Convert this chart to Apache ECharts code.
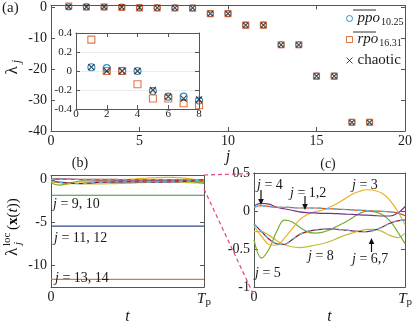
<!DOCTYPE html>
<html>
<head>
<meta charset="utf-8">
<script src="https://cdn.jsdelivr.net/npm/echarts@6/dist/echarts.min.js"></script>
<style>
  html, body { margin: 0; padding: 0; background: #fff; }
  #chart { width: 415px; height: 326px; }
</style>
</head>
<body>
<div id="chart"></div>
<script>
// Lyapunov exponents, panel (a)
const jIndex = [1, 2, 3, 4, 5, 6, 7, 8, 9, 10, 11, 12, 13, 14, 15, 16, 17, 18];
const ppoExp = [0.04, 0.03, 0.0, 0.0, -0.21, -0.27, -0.27, -0.31, -2.14, -2.14, -5.86, -5.86, -12.2, -12.2, -22.3, -22.3, -37.2, -37.2];
const rpoExp = [0.33, 0.0, 0.0, -0.14, -0.29, -0.29, -0.34, -0.36, -2.14, -2.14, -5.86, -5.86, -12.2, -12.2, -22.3, -22.3, -37.2, -37.2];
const chaoticExp = [0.04, 0.0, 0.0, 0.0, -0.2, -0.27, -0.29, -0.3, -2.14, -2.14, -5.86, -5.86, -12.2, -12.2, -22.3, -22.3, -37.2, -37.2];

// local exponents along the orbit, panels (b) and (c)
const tGrid = [0, 0.05, 0.1, 0.15, 0.2, 0.25, 0.3, 0.35, 0.4, 0.45, 0.5, 0.55, 0.6, 0.65, 0.7, 0.75, 0.8, 0.85, 0.9, 0.95, 1];
const loc12 = [0.05, 0.07, 0.06, 0.05, 0.05, 0.045, 0.04, 0.04, 0.04, 0.035, 0.03, 0.025, 0.02, 0.015, 0.01, 0.005, 0.0, -0.005, -0.01, -0.025, -0.06];
const loc3 = [-0.2, -0.33, -0.44, -0.45, -0.36, -0.24, -0.12, -0.05, -0.01, 0.01, 0.05, 0.1, 0.16, 0.22, 0.26, 0.28, 0.27, 0.23, 0.14, 0.0, -0.18];
const loc4 = [0.07, 0.1, 0.09, 0.05, 0.03, 0.01, -0.01, -0.02, -0.025, -0.03, -0.03, -0.035, -0.04, -0.045, -0.05, -0.055, -0.06, -0.065, -0.065, -0.03, 0.06];
const loc5 = [-0.38, -0.62, -0.5, -0.27, -0.12, -0.14, -0.21, -0.27, -0.29, -0.28, -0.25, -0.2, -0.15, -0.09, -0.03, 0.0, -0.01, -0.05, -0.13, -0.27, -0.43];
const loc67 = [-0.17, -0.27, -0.37, -0.43, -0.44, -0.38, -0.31, -0.27, -0.25, -0.24, -0.235, -0.24, -0.25, -0.26, -0.27, -0.27, -0.25, -0.21, -0.16, -0.13, -0.12];
const loc8 = [-0.27, -0.27, -0.32, -0.39, -0.44, -0.47, -0.48, -0.47, -0.45, -0.43, -0.4, -0.36, -0.32, -0.29, -0.26, -0.24, -0.24, -0.27, -0.32, -0.35, -0.29];
const tEnds = [0, 1];
const loc910 = [-1.8, -1.8];
const loc1112 = [-5.4, -5.4];
const loc1314 = [-11.6, -11.6];

const SERIF = '"Liberation Serif", "DejaVu Serif", serif';
const AXIS_COLOR = '#555';
const TEXT_COLOR = '#1a1a1a';

const pairs = (xs, ys) => xs.map((x, i) => [x, ys[i]]);

const chart = echarts.init(document.getElementById('chart'));

// axis with its mirror on the opposite side (box with ticks on all sides)
function axisPair(gridIndex, min, max, ticks, sides, labelSize, margin, extra) {
  extra = extra || {};
  const base = {
    type: 'value', gridIndex, min, max,
    axisLine: { show: true, onZero: false, lineStyle: { color: AXIS_COLOR, width: 1 } },
    axisTick: { inside: true, length: 4, customValues: ticks, lineStyle: { color: AXIS_COLOR } },
    splitLine: { show: false }
  };
  const main = Object.assign({}, base, {
    position: sides[0],
    axisLabel: Object.assign({
      customValues: ticks, fontFamily: SERIF, fontSize: labelSize, color: TEXT_COLOR, margin
    }, extra.axisLabel || {})
  });
  if (extra.name) {
    main.name = extra.name;
    main.nameLocation = 'middle';
    main.nameGap = extra.nameGap;
    main.nameTextStyle = { fontFamily: SERIF, fontStyle: 'italic', fontSize: 16, color: TEXT_COLOR };
  }
  if (extra.splitLine) main.splitLine = extra.splitLine;
  const mirror = Object.assign({}, base, { position: sides[1], axisLabel: { show: false } });
  return [main, mirror];
}

const tpLabel = {
  formatter: v => (v === 1 ? '{i|T}{s|p}' : '0'),
  rich: {
    i: { fontFamily: SERIF, fontStyle: 'italic', fontSize: 15, color: TEXT_COLOR },
    s: { fontFamily: SERIF, fontSize: 11, color: TEXT_COLOR, padding: [7, 0, 0, 0] }
  }
};

const xAxes = [].concat(
  axisPair(0, 0, 20, [0, 5, 10, 15, 20], ['bottom', 'top'], 14, 3, { name: 'j', nameGap: 16 }),
  axisPair(1, 0, 8, [0, 2, 4, 6, 8], ['bottom', 'top'], 11, 0),
  axisPair(2, 0, 1, [0, 1], ['bottom', 'top'], 14, 3, { name: 't', nameGap: 15, axisLabel: tpLabel }),
  axisPair(3, 0, 1, [0, 1], ['bottom', 'top'], 14, 3, { name: 't', nameGap: 15, axisLabel: tpLabel })
);
const yAxes = [].concat(
  axisPair(0, -40, 0.5, [-40, -30, -20, -10, 0], ['left', 'right'], 14, 4),
  axisPair(1, -0.4, 0.4, [-0.4, -0.2, 0, 0.2, 0.4], ['left', 'right'], 11, 4,
    { splitLine: { show: true, lineStyle: { color: '#ececec', width: 1 } } }),
  axisPair(2, -12.5, 0.5, [-10, -5, 0], ['left', 'right'], 14, 4),
  axisPair(3, -1, 0.5, [-1, -0.5, 0, 0.5], ['left', 'right'], 14, 4)
);

const markerStyle = {
  ppo: { symbol: 'circle', itemStyle: { color: 'rgba(0,0,0,0)', borderColor: '#0072BD', borderWidth: 1.1 } },
  rpo: { symbol: 'rect', itemStyle: { color: 'rgba(0,0,0,0)', borderColor: '#D95319', borderWidth: 1.1 } },
  chaotic: { symbol: 'path://M0,0L10,10M10,0L0,10', itemStyle: { color: 'rgba(0,0,0,0)', borderColor: '#1a1a1a', borderWidth: 1.2 } }
};
const expData = { ppo: ppoExp, rpo: rpoExp, chaotic: chaoticExp };

function scatter(name, axisIdx, n, size) {
  return Object.assign({
    name, type: 'scatter', xAxisIndex: axisIdx, yAxisIndex: axisIdx,
    symbolSize: size, silent: true, z: 3,
    data: pairs(jIndex.slice(0, n), expData[name].slice(0, n))
  }, markerStyle[name]);
}

function curve(axisIdx, xs, ys, color, dashed) {
  return {
    type: 'line', xAxisIndex: axisIdx, yAxisIndex: axisIdx,
    data: pairs(xs, ys), smooth: 0.35, showSymbol: false, silent: true,
    lineStyle: { color, width: dashed ? 1.3 : 1.2, type: dashed ? [4, 4] : 'solid' },
    z: dashed ? 4 : 3
  };
}

function localCurves(axisIdx) {
  return [
    curve(axisIdx, tGrid, loc8, '#BEBE36'),
    curve(axisIdx, tGrid, loc5, '#77AC30'),
    curve(axisIdx, tGrid, loc3, '#EDB120'),
    curve(axisIdx, tGrid, loc67, '#A2142F'),
    curve(axisIdx, tGrid, loc67, '#4DBEEE', true),
    curve(axisIdx, tGrid, loc4, '#7E2F8E'),
    curve(axisIdx, tGrid, loc12, '#D95319'),
    curve(axisIdx, tGrid, loc12, '#4DBEEE', true)
  ];
}

const series = [
  scatter('ppo', 0, 18, 6), scatter('rpo', 0, 18, 6), scatter('chaotic', 0, 18, 5),
  scatter('ppo', 2, 8, 7), scatter('rpo', 2, 8, 7), scatter('chaotic', 2, 8, 6),
  curve(4, tEnds, loc910, '#3D8C40'),
  curve(4, tEnds, loc1112, '#2B4C8C'),
  curve(4, tEnds, loc1314, '#E8771E')
].concat(localCurves(4), localCurves(6));

function label(text, x, y, opts) {
  opts = opts || {};
  return {
    type: 'text', x, y, z: 10, silent: true,
    style: {
      text, fill: TEXT_COLOR, align: opts.align || 'left', verticalAlign: 'middle',
      textAlign: opts.align || 'left', textVerticalAlign: 'middle',
      font: (opts.italic ? 'italic ' : '') + (opts.size || 14) + 'px ' + SERIF,
      rich: opts.rich
    }
  };
}

const jRich = {
  i: { fontFamily: SERIF, fontStyle: 'italic', fontSize: 14, color: TEXT_COLOR },
  n: { fontFamily: SERIF, fontSize: 14, color: TEXT_COLOR }
};
const jLabel = (txt, x, y) => label('{i|j}{n| = ' + txt + '}', x, y, { rich: jRich });

function arrow(x, yFrom, yTo) {
  const dir = yTo > yFrom ? 1 : -1;
  return [
    { type: 'line', silent: true, z: 10, shape: { x1: x, y1: yFrom, x2: x, y2: yTo - dir * 5 },
      style: { stroke: '#111', lineWidth: 1.2 } },
    { type: 'polygon', silent: true, z: 10,
      shape: { points: [[x - 2.8, yTo - dir * 6], [x + 2.8, yTo - dir * 6], [x, yTo]] },
      style: { fill: '#111' } }
  ];
}

const pink = { stroke: '#E8408C', lineWidth: 1.2, lineDash: [4, 3] };

const graphic = [
  label('(a)', 2, 8, { size: 15 }),
  label('(b)', 80, 163, { size: 14, align: 'center' }),
  label('(c)', 328, 164, { size: 14, align: 'center' }),
  // λ_j
  {
    type: 'group', x: 12.5, y: 70.5, rotation: Math.PI / 2, silent: true,
    children: [
      { type: 'text', x: 0, y: 0, style: { text: 'λ', font: '17px ' + SERIF, fill: TEXT_COLOR, align: 'center', verticalAlign: 'middle', textAlign: 'center', textVerticalAlign: 'middle' } },
      { type: 'text', x: 9, y: 4, style: { text: 'j', font: 'italic 12px ' + SERIF, fill: TEXT_COLOR, align: 'center', verticalAlign: 'middle', textAlign: 'center', textVerticalAlign: 'middle' } }
    ]
  },
  // λ_j^loc(x(t))
  {
    type: 'group', x: 13, y: 252, rotation: Math.PI / 2, silent: true,
    children: [
      { type: 'text', x: 0, y: 0, style: { text: 'λ', font: '17px ' + SERIF, fill: TEXT_COLOR, align: 'center', verticalAlign: 'middle', textAlign: 'center', textVerticalAlign: 'middle' } },
      { type: 'text', x: 7, y: 5, style: { text: 'j', font: 'italic 11px ' + SERIF, fill: TEXT_COLOR, align: 'left', verticalAlign: 'middle', textAlign: 'left', textVerticalAlign: 'middle' } },
      { type: 'text', x: 6, y: -6, style: { text: 'loc', font: '11px ' + SERIF, fill: TEXT_COLOR, align: 'left', verticalAlign: 'middle', textAlign: 'left', textVerticalAlign: 'middle' } },
      { type: 'text', x: 22, y: 0, style: {
        text: '{n|(}{b|x}{n|(}{i|t}{n|))}', align: 'left', verticalAlign: 'middle', textAlign: 'left', textVerticalAlign: 'middle',
        rich: {
          n: { fontFamily: SERIF, fontSize: 15, color: TEXT_COLOR },
          b: { fontFamily: SERIF, fontSize: 15, fontWeight: 'bold', color: TEXT_COLOR },
          i: { fontFamily: SERIF, fontSize: 15, fontStyle: 'italic', color: TEXT_COLOR }
        }
      } }
    ]
  },
  // legend overlines
  { type: 'line', silent: true, z: 10, shape: { x1: 353, y1: 10, x2: 376, y2: 10 }, style: { stroke: '#333', lineWidth: 1 } },
  { type: 'line', silent: true, z: 10, shape: { x1: 353, y1: 32, x2: 376, y2: 32 }, style: { stroke: '#333', lineWidth: 1 } },
  // labels in (b)
  jLabel('9, 10', 53, 204),
  jLabel('11, 12', 54, 238),
  jLabel('13, 14', 55, 278),
  // labels in (c)
  jLabel('4', 257, 185),
  jLabel('1,2', 290, 193),
  jLabel('3', 352, 185),
  jLabel('5', 255, 273),
  jLabel('8', 308, 256),
  jLabel('6,7', 352, 259),
  // zoom connectors
  { type: 'line', silent: true, z: 10, shape: { x1: 204, y1: 175, x2: 254, y2: 173.5 }, style: pink },
  { type: 'line', silent: true, z: 10, shape: { x1: 204, y1: 189, x2: 254, y2: 295.5 }, style: pink }
].concat(arrow(261, 190, 205), arrow(305, 196, 210), arrow(371.5, 252, 238));

chart.setOption({
  animation: false,
  textStyle: { fontFamily: SERIF },
  grid: [
    { left: 51, top: 4, width: 356, height: 127 },
    { left: 76, top: 33, width: 123, height: 76, show: true, backgroundColor: '#fff', borderWidth: 0 },
    { left: 51, top: 175.5, width: 153, height: 120 },
    { left: 254, top: 173, width: 153, height: 122.5 }
  ],
  legend: {
    orient: 'vertical', left: 341, top: 6,
    itemWidth: 6, itemHeight: 6, itemGap: 5, selectedMode: false,
    data: [
      { name: 'ppo', itemStyle: { borderWidth: 1 } },
      { name: 'rpo', itemStyle: { borderWidth: 1 } },
      { name: 'chaotic', itemStyle: { borderWidth: 1 } }
    ],
    formatter: n => ({ ppo: '{i|ppo}{s|10.25}', rpo: '{i|rpo}{s|16.31}', chaotic: '{n|chaotic}' })[n],
    textStyle: {
      fontFamily: SERIF, fontSize: 15, color: TEXT_COLOR,
      rich: {
        i: { fontFamily: SERIF, fontStyle: 'italic', fontSize: 15, color: TEXT_COLOR },
        s: { fontFamily: SERIF, fontSize: 10, color: TEXT_COLOR, padding: [7, 0, 0, 1] },
        n: { fontFamily: SERIF, fontSize: 15, color: TEXT_COLOR }
      }
    }
  },
  xAxis: xAxes,
  yAxis: yAxes,
  series,
  graphic
});
</script>
</body>
</html>
